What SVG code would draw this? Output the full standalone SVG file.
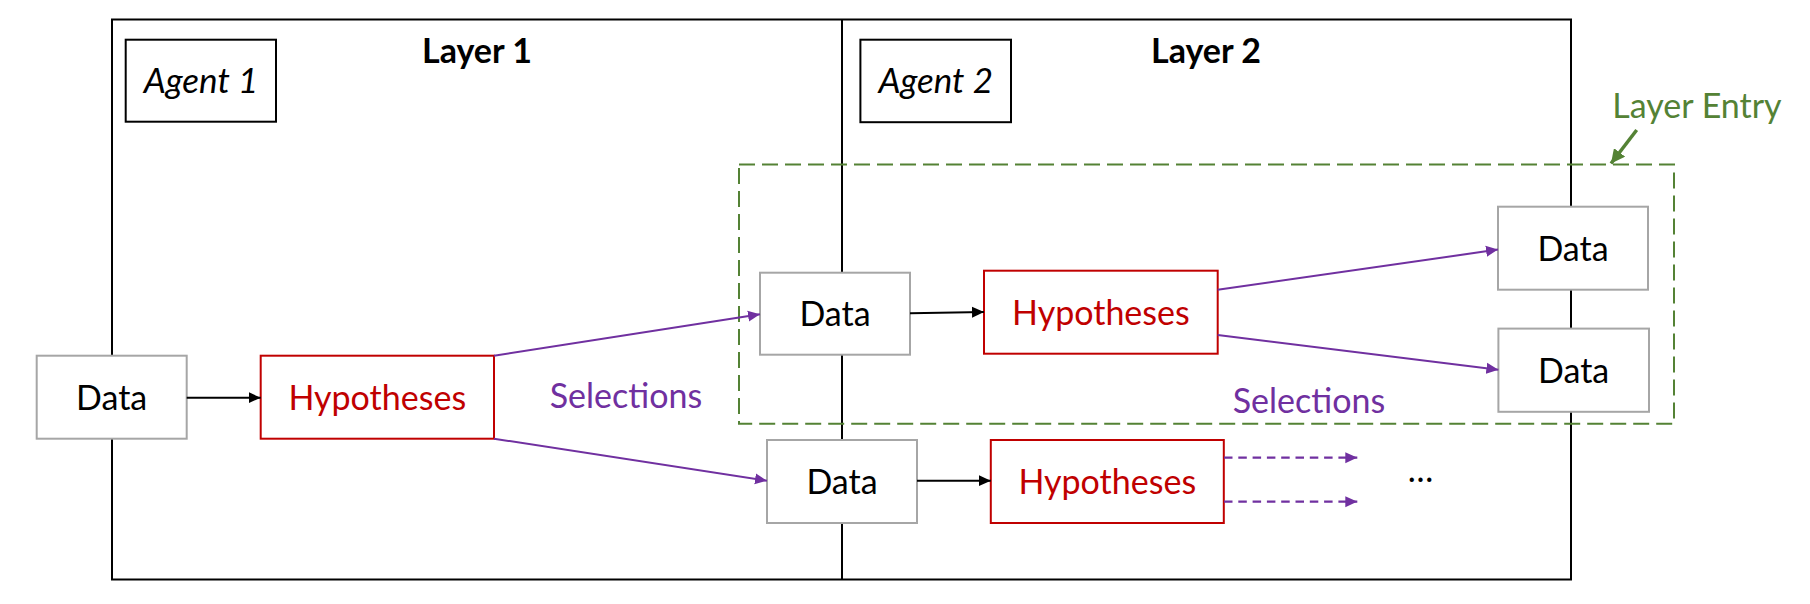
<svg xmlns="http://www.w3.org/2000/svg" width="1810" height="604" viewBox="0 0 1810 604">
<style>
.frame{fill:none;stroke:#000;stroke-width:2}
.data{fill:#fff;stroke:#A6A6A6;stroke-width:2}
.hyp{fill:#fff;stroke:#C00000;stroke-width:2}
.agent{fill:#fff;stroke:#000;stroke-width:2}
.t{font-family:Lato,"Open Sans",sans-serif;font-size:34px;text-anchor:middle}
.tb{font-weight:bold;font-size:34px}
.ti{font-style:italic;font-size:35px}
.black{fill:#000}
.red{fill:#C00000}
.purple{fill:#7030A0}
.green{fill:#548235}
.ck{stroke:#000;stroke-width:2;fill:none}
.cp{stroke:#7030A0;stroke-width:2;fill:none}
.cpd{stroke:#7030A0;stroke-width:2.2;fill:none;stroke-dasharray:8.5 5.8}
.cg{stroke:#548235;stroke-width:3.5;fill:none}
</style>
<defs>
<marker id="ak" markerUnits="userSpaceOnUse" viewBox="0 0 12 12" refX="12" refY="6" markerWidth="12" markerHeight="12" orient="auto"><path d="M0,0.5 L12,6 L0,11.5 Z" fill="#000"/></marker>
<marker id="ap" markerUnits="userSpaceOnUse" viewBox="0 0 12 12" refX="12" refY="6" markerWidth="12" markerHeight="12" orient="auto"><path d="M0,0.5 L12,6 L0,11.5 Z" fill="#7030A0"/></marker>
<marker id="ag" markerUnits="userSpaceOnUse" viewBox="0 0 14 14" refX="14" refY="7" markerWidth="14" markerHeight="14" orient="auto"><path d="M0,0 L14,7 L0,14 Z" fill="#548235"/></marker>
</defs>

<g id="layers">
<rect class="frame" x="112" y="19.5" width="1459" height="560"/>
<line class="frame" x1="842" y1="19.5" x2="842" y2="579.5"/>
<text class="t tb black" x="477" y="63">Layer 1</text>
<text class="t tb black" x="1206" y="63">Layer 2</text>
</g>

<g id="layer-entry">
<rect x="739" y="164.5" width="935" height="259.2" fill="none" stroke="#548235" stroke-width="2" stroke-dasharray="16 7"/>
<text class="t green" x="1697" y="118.3">Layer Entry</text>
</g>

<g id="agent1">
<rect class="agent" x="125.7" y="39.7" width="150.3" height="82"/>
<text class="t ti black" x="201" y="93">Agent 1</text>
</g>
<g id="agent2">
<rect class="agent" x="860.4" y="39.7" width="150.6" height="82.5"/>
<text class="t ti black" x="935.7" y="93">Agent 2</text>
</g>

<g id="data1">
<rect class="data" x="36.7" y="355.7" width="150" height="83"/>
<text class="t black" x="111.7" y="410">Data</text>
</g>
<g id="hyp1">
<rect class="hyp" x="260.7" y="355.7" width="233.3" height="83"/>
<text class="t red" x="377.3" y="410">Hypotheses</text>
</g>
<g id="data2">
<rect class="data" x="760" y="272.7" width="150" height="82"/>
<text class="t black" x="835" y="326">Data</text>
</g>
<g id="hyp2">
<rect class="hyp" x="984" y="270.7" width="233.7" height="83"/>
<text class="t red" x="1100.9" y="324.5">Hypotheses</text>
</g>
<g id="data3">
<rect class="data" x="767" y="440" width="150" height="83"/>
<text class="t black" x="842" y="494">Data</text>
</g>
<g id="hyp3">
<rect class="hyp" x="990.8" y="440" width="233" height="83"/>
<text class="t red" x="1107.3" y="494">Hypotheses</text>
</g>
<g id="data4">
<rect class="data" x="1498" y="206.7" width="150" height="83"/>
<text class="t black" x="1573" y="261">Data</text>
</g>
<g id="data5">
<rect class="data" x="1498.4" y="328.6" width="150.6" height="83.2"/>
<text class="t black" x="1573.7" y="383">Data</text>
</g>

<g id="labels">
<text class="t purple" x="626" y="408">Selections</text>
<text class="t purple" x="1309" y="413">Selections</text>
<text class="t black" x="1420.5" y="482">…</text>
</g>

<g id="connectors">
<line class="ck" x1="186.7" y1="397.7" x2="260.7" y2="397.7" marker-end="url(#ak)"/>
<line class="cp" x1="494" y1="355.7" x2="760" y2="314.3" marker-end="url(#ap)"/>
<line class="cp" x1="494" y1="438.7" x2="767" y2="480.7" marker-end="url(#ap)"/>
<line class="ck" x1="910" y1="313.3" x2="984" y2="312" marker-end="url(#ak)"/>
<line class="ck" x1="917" y1="480.7" x2="990.8" y2="480.7" marker-end="url(#ak)"/>
<line class="cp" x1="1217.7" y1="289.7" x2="1498" y2="249.6" marker-end="url(#ap)"/>
<line class="cp" x1="1217.7" y1="335" x2="1498.4" y2="369.8" marker-end="url(#ap)"/>
<line class="cpd" x1="1224" y1="457.7" x2="1357.3" y2="457.7" marker-end="url(#ap)"/>
<line class="cpd" x1="1224" y1="501.7" x2="1357.3" y2="501.7" marker-end="url(#ap)"/>
<line class="cg" x1="1636.7" y1="130" x2="1611" y2="163.5" marker-end="url(#ag)"/>
</g>
</svg>
